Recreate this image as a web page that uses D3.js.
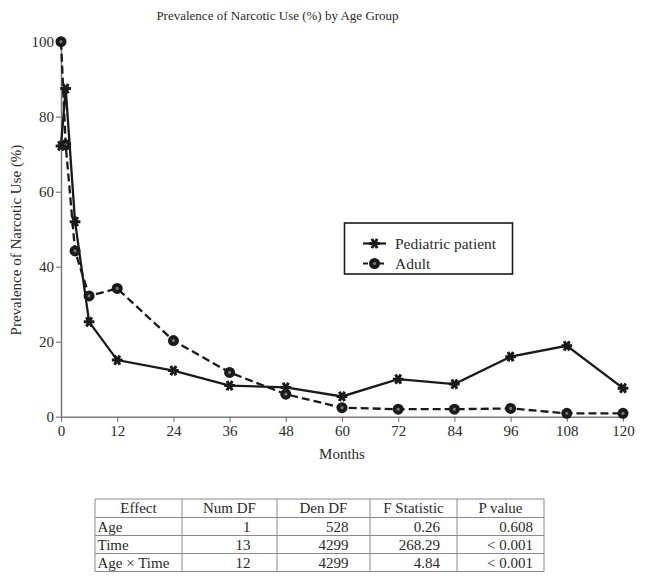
<!DOCTYPE html>
<html>
<head>
<meta charset="utf-8">
<script src="https://cdn.jsdelivr.net/npm/d3@7"></script>
<style>
  html, body { margin: 0; padding: 0; background: #fff; }
  svg { display: block; font-family: "Liberation Serif", "Times New Roman", serif; }
</style>
</head>
<body>
<svg id="chart" width="645" height="581"></svg>
<script>
// ---- data ----
const months = [0, 1, 3, 6, 12, 24, 36, 48, 60, 72, 84, 96, 108, 120];
const pediatric = [72.2, 87.5, 52.0, 25.3, 15.1, 12.3, 8.3, 7.8, 5.4, 10.0, 8.7, 16.0, 18.9, 7.6];
const adult = [100, 72.5, 44.2, 32.2, 34.2, 20.3, 11.8, 6.0, 2.4, 2.0, 2.0, 2.2, 0.9, 0.9];
const seriesNames = ["Pediatric patient", "Adult"];
const xTicks = [0, 12, 24, 36, 48, 60, 72, 84, 96, 108, 120];
const yTicks = [0, 20, 40, 60, 80, 100];
const titleText = "Prevalence of Narcotic Use (%) by Age Group";
const xLabel = "Months";
const yLabel = "Prevalence of Narcotic Use (%)";
const tableHeader = ["Effect", "Num DF", "Den DF", "F Statistic", "P value"];
const tableEffects = ["Age", "Time", "Age × Time"];
const tableNumDF = ["1", "13", "12"];
const tableDenDF = ["528", "4299", "4299"];
const tableF = ["0.26", "268.29", "4.84"];
const tableP = ["0.608", "< 0.001", "< 0.001"];

// ---- layout ----
const svg = d3.select("#chart");
const ink = "#1a1a1a";
const axisCol = "#7a7a7a";
const textCol = "#2a2a2a";

const x = d3.scaleLinear().domain([0, 120]).range([61, 623]);
const y = d3.scaleLinear().domain([0, 100]).range([416.7, 41.7]);

// title
svg.append("text").attr("x", 277.5).attr("y", 19.5).attr("text-anchor", "middle")
  .attr("font-size", 13).attr("fill", textCol).text(titleText);

// axes
const xAxis = svg.append("g").attr("transform", `translate(0,${y(0)})`)
  .call(d3.axisBottom(x).tickValues(xTicks).tickSize(5).tickSizeOuter(0).tickPadding(4));
const yAxis = svg.append("g").attr("transform", `translate(${x(0)},0)`)
  .call(d3.axisLeft(y).tickValues(yTicks).tickSize(5).tickSizeOuter(0).tickPadding(2));
[xAxis, yAxis].forEach(g => {
  g.select(".domain").attr("stroke", axisCol).attr("stroke-width", 1.5);
  g.selectAll(".tick line").attr("stroke", axisCol).attr("stroke-width", 1.2);
  g.selectAll(".tick text").attr("fill", textCol).attr("font-size", 15)
    .attr("font-family", "Liberation Serif, serif");
});

svg.append("text").attr("x", 342).attr("y", 459).attr("text-anchor", "middle")
  .attr("font-size", 15).attr("fill", textCol).text(xLabel);
svg.append("text").attr("transform", "translate(20.5,240) rotate(-90)")
  .attr("text-anchor", "middle").attr("font-size", 15).attr("fill", textCol).text(yLabel);

// lines
const line = d3.line().x((d, i) => x(months[i])).y(d => y(d));
svg.append("path").datum(adult).attr("d", line).attr("fill", "none")
  .attr("stroke", ink).attr("stroke-width", 2.3).attr("stroke-dasharray", "8,4");
svg.append("path").datum(pediatric).attr("d", line).attr("fill", "none")
  .attr("stroke", ink).attr("stroke-width", 2.3);

// markers
const star = d3.symbol().type(d3.symbolAsterisk).size(80);
function drawStar(g, cx, cy) {
  g.append("path").attr("d", star()).attr("transform", `translate(${cx},${cy}) rotate(90)`)
    .attr("fill", "none").attr("stroke", ink).attr("stroke-width", 3);
}
function drawDot(g, cx, cy) {
  g.append("circle").attr("cx", cx).attr("cy", cy).attr("r", 5.5).attr("fill", ink);
  g.append("circle").attr("cx", cx).attr("cy", cy).attr("r", 1.6).attr("fill", "#777");
}
const mk = svg.append("g");
adult.forEach((v, i) => drawDot(mk, x(months[i]), y(v)));
pediatric.forEach((v, i) => drawStar(mk, x(months[i]), y(v)));

// legend
const lg = svg.append("g");
lg.append("rect").attr("x", 344.5).attr("y", 223).attr("width", 168).attr("height", 51)
  .attr("fill", "#fff").attr("stroke", ink).attr("stroke-width", 1.6);
const legendY = [243.5, 263.5];
lg.append("line").attr("x1", 363).attr("x2", 386).attr("y1", legendY[0]).attr("y2", legendY[0])
  .attr("stroke", ink).attr("stroke-width", 2.2);
drawStar(lg, 374.5, legendY[0]);
lg.append("line").attr("x1", 363).attr("x2", 386).attr("y1", legendY[1]).attr("y2", legendY[1])
  .attr("stroke", ink).attr("stroke-width", 2.2).attr("stroke-dasharray", "5,3");
drawDot(lg, 374.5, legendY[1]);
seriesNames.forEach((n, i) => {
  lg.append("text").attr("x", 395).attr("y", legendY[i] + 5).attr("font-size", 15.5)
    .attr("fill", textCol).text(n);
});

// table
const colX = [95, 182, 277, 370, 457, 544];
const rowY = [499, 517.5, 535.5, 553.5, 571.5];
const tg = svg.append("g");
const tableLine = "#8a8a8a";
rowY.forEach(yy => tg.append("line").attr("x1", colX[0]).attr("x2", colX[5])
  .attr("y1", yy).attr("y2", yy).attr("stroke", tableLine).attr("stroke-width", 1));
colX.forEach(xx => tg.append("line").attr("x1", xx).attr("x2", xx)
  .attr("y1", rowY[0]).attr("y2", rowY[4]).attr("stroke", tableLine).attr("stroke-width", 1));
tableHeader.forEach((h, j) => {
  tg.append("text").attr("x", (colX[j] + colX[j + 1]) / 2).attr("y", rowY[0] + 14)
    .attr("text-anchor", "middle").attr("font-size", 15).attr("fill", textCol).text(h);
});
const cols = [tableNumDF, tableDenDF, tableF, tableP];
const rightEdge = [250.5, 348.5, 440, 533];
tableEffects.forEach((e, i) => {
  const ty = rowY[i + 1] + 14;
  tg.append("text").attr("x", 97.5).attr("y", ty).attr("font-size", 15).attr("fill", textCol).text(e);
  cols.forEach((c, j) => {
    tg.append("text").attr("x", rightEdge[j]).attr("y", ty).attr("text-anchor", "end")
      .attr("font-size", 15).attr("fill", textCol).text(c[i]);
  });
});
</script>
</body>
</html>
